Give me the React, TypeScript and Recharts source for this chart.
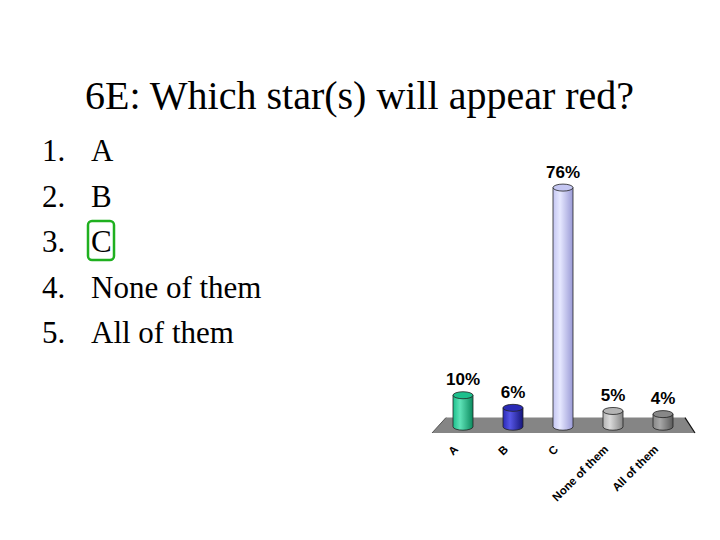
import { BarChart, Bar, XAxis, YAxis, LabelList, ReferenceArea } from 'recharts';

// slide text
const title = '6E: Which star(s) will appear red?';
const listItems = ['A', 'B', 'C', 'None of them', 'All of them'];
const correctIndex = 2;

// chart data
const categories = ['A', 'B', 'C', 'None of them', 'All of them'];
const percents = [10, 6, 76, 5, 4];

// cylinder colours: [dark edge, base, highlight]
const barColors = [
  ['#0b8a5e', '#1cbf8c', '#5fe3b8'],
  ['#15157a', '#2a2ab6', '#5656e6'],
  ['#9a9ad6', '#c4c6f2', '#e6e8ff'],
  ['#858585', '#b4b4b4', '#dadada'],
  ['#5a5a5a', '#888888', '#a8a8a8'],
];

const data = categories.map((name, i) => ({ name, pct: percents[i] }));

const sansFamily = '"Liberation Sans", Arial, sans-serif';
const serif = '"Liberation Serif", "Times New Roman", serif';

const Cylinder = (props: any) => {
  const { x, y, width, height, index } = props;
  const rx = width / 2;
  const ry = 3.5;
  const bottom = y + height;
  const c = barColors[index];
  return (
    <g>
      <path
        d={`M${x},${y} L${x},${bottom} A${rx},${ry} 0 0 0 ${x + width},${bottom} L${x + width},${y} Z`}
        fill={`url(#cyl${index})`}
        stroke="#222"
        strokeWidth={0.8}
      />
      <ellipse cx={x + rx} cy={y} rx={rx} ry={ry} fill={c[1]} stroke="#222" strokeWidth={0.8} />
    </g>
  );
};

const Floor = (props: any) => {
  const { x, y, width, height } = props;
  const pts = `${x - 6},${y + height} ${x + 8},${y} ${x + width - 3},${y} ${x + width + 7},${y + height}`;
  return (
    <g>
      <polygon points={pts} fill="#858585" />
      <line x1={x - 6} y1={y + height} x2={x + 8} y2={y} stroke="#555" strokeWidth={1} />
      <line x1={x + width - 3} y1={y} x2={x + width + 7} y2={y + height} stroke="#111" strokeWidth={1.2} />
    </g>
  );
};

const SlantTick = (props: any) => {
  const { x, y, payload } = props;
  const ax = x - 4;
  const ay = y + 9;
  return (
    <text
      x={ax}
      y={ay}
      textAnchor="end"
      fontSize={11.5}
      fontWeight="bold"
      fontFamily={sansFamily}
      fill="#000"
      transform={`rotate(-45, ${ax}, ${ay})`}
    >
      {payload.value}
    </text>
  );
};

export default function App() {
  return (
    <div style={{ position: 'absolute', left: 0, top: 0, width: 720, height: 540, background: '#fff' }}>
      <BarChart
        width={720}
        height={540}
        data={data}
        margin={{ top: 175, right: 32, bottom: 47, left: 438 }}
      >
        <defs>
          {barColors.map((c, i) => (
            <linearGradient key={i} id={`cyl${i}`} x1="0" y1="0" x2="1" y2="0">
              <stop offset="0%" stopColor={c[1]} />
              <stop offset="35%" stopColor={c[2]} />
              <stop offset="100%" stopColor={c[0]} />
            </linearGradient>
          ))}
        </defs>
        <XAxis
          dataKey="name"
          height={60}
          axisLine={false}
          tickLine={false}
          interval={0}
          tick={<SlantTick />}
        />
        <YAxis hide domain={[-2, 80]} allowDataOverflow />
        <ReferenceArea y1={-2} y2={2.9} ifOverflow="visible" shape={<Floor />} />
        <Bar dataKey="pct" barSize={20} shape={<Cylinder />} isAnimationActive={false}>
          <LabelList
            dataKey="pct"
            position="top"
            offset={10}
            formatter={(v: any) => `${v}%`}
            fontSize={17}
            fontWeight="bold"
            fontFamily={sansFamily}
            fill="#000"
          />
        </Bar>
      </BarChart>
      <svg
        width={720}
        height={540}
        style={{ position: 'absolute', left: 0, top: 0, pointerEvents: 'none' }}
      >
        <text x={85} y={109} fontFamily={serif} fontSize={40} fill="#000">
          {title}
        </text>
        {listItems.map((item, i) => (
          <g key={item}>
            <text x={42} y={161 + i * 45.5} fontFamily={serif} fontSize={31} fill="#000">
              {`${i + 1}.`}
            </text>
            <text x={91} y={161 + i * 45.5} fontFamily={serif} fontSize={31} fill="#000">
              {item}
            </text>
          </g>
        ))}
        <rect
          x={88}
          y={161 + correctIndex * 45.5 - 31}
          width={26}
          height={39}
          rx={4}
          fill="none"
          stroke="#1fb01f"
          strokeWidth={2.5}
        />
      </svg>
    </div>
  );
}
